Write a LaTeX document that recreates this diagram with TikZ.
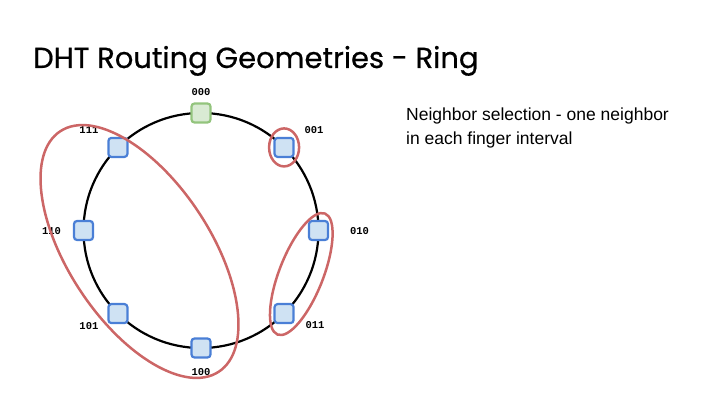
\documentclass[tikz,border=0pt]{standalone}
\usepackage{fontspec}
\setmainfont{Liberation Sans}
\newfontfamily\titlefont{Poppins}[FakeBold=0.6]
\newfontfamily\labelfont{Liberation Mono}
\usetikzlibrary{positioning,calc}
\definecolor{ringred}{HTML}{CC6666}
\definecolor{nodeblue}{HTML}{4A7FD6}
\definecolor{fillblue}{HTML}{CFE2F3}
\definecolor{nodegreen}{HTML}{93C47D}
\definecolor{fillgreen}{HTML}{D9EAD3}
\tikzset{
  peer/.style={draw=nodeblue, fill=fillblue, line width=2.2pt, rounded corners=3pt,
    minimum size=19pt, inner sep=0pt},
  rootpeer/.style={peer, draw=nodegreen, fill=fillgreen},
  idlabel/.style={font=\labelfont\bfseries\fontsize{10.5}{12}\selectfont, inner sep=0pt},
  group/.style={draw=ringred, line width=2.5pt},
  ring/.style={draw=black, line width=2.2pt}
}
\begin{document}
\begin{tikzpicture}[x=1pt,y=1pt]
\useasboundingbox (0,0) rectangle (720,405);
% title
\node[anchor=base west, inner sep=0pt, font=\titlefont\fontsize{29}{34}\selectfont] (title) at (33,337) {DHT Routing Geometries - Ring};
% description
\node[anchor=base west, inner sep=0pt, align=left, font=\fontsize{17.5}{24.5}\selectfont] (desc) at (406,260) {Neighbor selection - one neighbor\\in each finger interval};
% ring
\coordinate (c) at (201,174.5);
\draw[ring] (c) circle[radius=117.5];
% peers
\node[rootpeer] (n000) at ($(c)+(90:117.5)$) {};
\node[peer] (n001) at ($(c)+(45:117.5)$) {};
\node[peer] (n010) at ($(c)+(0:117.5)$) {};
\node[peer] (n011) at ($(c)+(-45:117.5)$) {};
\node[peer] (n100) at ($(c)+(-90:117.5)$) {};
\node[peer] (n101) at ($(c)+(-135:117.5)$) {};
\node[peer] (n110) at ($(c)+(180:117.5)$) {};
\node[peer] (n111) at ($(c)+(135:117.5)$) {};
% labels
\node[idlabel] (l000) at ([shift={(0,21)}]n000.center) {000};
\node[idlabel] (l001) at ([shift={(30,17)}]n001.center) {001};
\node[idlabel] (l010) at ([shift={(41,-1)}]n010.center) {010};
\node[idlabel] (l011) at ([shift={(31,-11)}]n011.center) {011};
\node[idlabel] (l100) at ([shift={(0,-24)}]n100.center) {100};
\node[idlabel] (l101) at ([shift={(-29,-12)}]n101.center) {101};
\node[idlabel] (l110) at ([shift={(-32,-1)}]n110.center) {110};
\node[idlabel] (l111) at ([shift={(-29,17)}]n111.center) {111};
% finger interval groups
\draw[group] (n001.center) ellipse[x radius=15, y radius=19];
\coordinate (g2) at ($(n010.center)!0.5!(n011.center)+(0,-2)$);
\draw[group, rotate around={68.6:(g2)}] (g2) ellipse[x radius=65, y radius=22];
\coordinate (g3) at (139.5,153.5);
\draw[group, rotate around={-56.6:(g3)}] (g3) ellipse[x radius=144, y radius=71];
\end{tikzpicture}
\end{document}
